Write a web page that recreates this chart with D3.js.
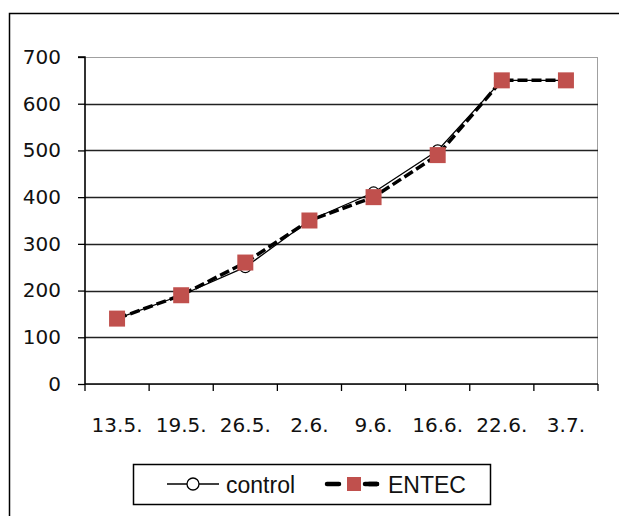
<!DOCTYPE html>
<html>
<head>
<meta charset="utf-8">
<script src="https://cdn.jsdelivr.net/npm/d3@7"></script>
<style>
  body { margin: 0; background: #fff; }
  svg { display: block; }
</style>
</head>
<body>
<script>
// data
var dates   = ["13.5.", "19.5.", "26.5.", "2.6.", "9.6.", "16.6.", "22.6.", "3.7."];
var control = [140, 190, 250, 350, 410, 500, 650, 650];
var entec   = [140, 190, 260, 350, 400, 490, 650, 650];
var yTicks  = [0, 100, 200, 300, 400, 500, 600, 700];

var W = 619, H = 516;
var margin = {top: 57, right: 21, bottom: 132, left: 85};
var width = W - margin.left - margin.right;
var height = H - margin.top - margin.bottom;

var svg = d3.select("body").append("svg")
    .attr("width", W)
    .attr("height", H);

// outer chart border (runs off the right and bottom)
svg.append("rect")
    .attr("x", 9.5).attr("y", 13.5)
    .attr("width", 640).attr("height", 540)
    .attr("fill", "none")
    .attr("stroke", "#000")
    .attr("stroke-width", 1.5);

var g = svg.append("g")
    .attr("transform", "translate(" + margin.left + "," + margin.top + ")");

var x = d3.scaleBand().domain(dates).range([0, width]);
var y = d3.scaleLinear().domain([0, 700]).range([height, 0]);
var cx = function(d, i) { return x(dates[i]) + x.bandwidth() / 2; };

// plot area frame (gray top/right)
g.append("rect")
    .attr("x", 0).attr("y", 0.5)
    .attr("width", width - 0.5).attr("height", height)
    .attr("fill", "none")
    .attr("stroke", "#a0a0a0")
    .attr("stroke-width", 1);

// gridlines
g.selectAll(".grid")
    .data(yTicks.filter(function(t) { return t > 0 && t < 700; }))
    .enter().append("line")
    .attr("x1", 0).attr("x2", width)
    .attr("y1", function(d) { return Math.round(y(d)) + 0.5; })
    .attr("y2", function(d) { return Math.round(y(d)) + 0.5; })
    .attr("stroke", "#222")
    .attr("stroke-width", 1.3);

// y axis
var yAxis = g.append("g")
    .call(d3.axisLeft(y).tickValues(yTicks).tickSize(7).tickPadding(17));
yAxis.select(".domain").attr("stroke", "#000").attr("stroke-width", 1.5)
    .attr("d", "M0," + height + "V0H-7");
yAxis.selectAll(".tick line").attr("stroke", "#000").attr("stroke-width", 1.3);
yAxis.selectAll("text")
    .attr("font-family", "DejaVu Sans, Verdana, sans-serif")
    .attr("font-size", 20)
    .attr("fill", "#111");

// x axis: ticks at band boundaries
var xAxis = g.append("g")
    .attr("transform", "translate(0," + height + ")");
xAxis.append("line")
    .attr("x1", 0).attr("x2", width)
    .attr("stroke", "#000").attr("stroke-width", 1.5);
xAxis.selectAll(".xt")
    .data(d3.range(dates.length + 1))
    .enter().append("line")
    .attr("x1", function(i) { return i * x.step(); })
    .attr("x2", function(i) { return i * x.step(); })
    .attr("y1", 0).attr("y2", 7)
    .attr("stroke", "#000").attr("stroke-width", 1.3);
xAxis.selectAll(".xl")
    .data(dates)
    .enter().append("text")
    .attr("x", function(d) { return x(d) + x.bandwidth() / 2; })
    .attr("y", 48)
    .attr("text-anchor", "middle")
    .attr("font-family", "DejaVu Sans, Verdana, sans-serif")
    .attr("font-size", 20)
    .attr("fill", "#111")
    .text(function(d) { return d; });

var line = d3.line()
    .x(cx)
    .y(function(d) { return y(d); });

// control series
g.append("path")
    .datum(control)
    .attr("d", line)
    .attr("fill", "none")
    .attr("stroke", "#000")
    .attr("stroke-width", 1.3);
g.selectAll(".ctrl")
    .data(control)
    .enter().append("circle")
    .attr("cx", cx)
    .attr("cy", function(d) { return y(d); })
    .attr("r", 5.5)
    .attr("fill", "#fff")
    .attr("stroke", "#000")
    .attr("stroke-width", 1.2);

// ENTEC series
g.append("path")
    .datum(entec)
    .attr("d", line)
    .attr("fill", "none")
    .attr("stroke", "#000")
    .attr("stroke-width", 3.5)
    .attr("stroke-dasharray", "10,4");
g.selectAll(".entec")
    .data(entec)
    .enter().append("rect")
    .attr("x", function(d, i) { return cx(d, i) - 8; })
    .attr("y", function(d) { return y(d) - 8; })
    .attr("width", 16).attr("height", 16)
    .attr("fill", "#c0504d");

// legend
var lg = svg.append("g").attr("transform", "translate(133,464)");
lg.append("rect")
    .attr("x", 0.5).attr("y", 0.5)
    .attr("width", 357).attr("height", 40)
    .attr("fill", "#fff")
    .attr("stroke", "#000")
    .attr("stroke-width", 1.5);

lg.append("line")
    .attr("x1", 34).attr("x2", 86).attr("y1", 20).attr("y2", 20)
    .attr("stroke", "#000").attr("stroke-width", 1.3);
lg.append("circle")
    .attr("cx", 60).attr("cy", 20).attr("r", 6)
    .attr("fill", "#fff").attr("stroke", "#000").attr("stroke-width", 1.3);
lg.append("text")
    .attr("x", 93).attr("y", 29)
    .attr("font-family", "Liberation Sans, Arial, sans-serif")
    .attr("font-size", 23)
    .attr("fill", "#111")
    .text("control");

lg.append("line")
    .attr("x1", 194).attr("x2", 244).attr("y1", 20).attr("y2", 20)
    .attr("stroke", "#000").attr("stroke-width", 4.5)
    .attr("stroke-dasharray", "12,26")
    .attr("stroke-linecap", "round");
lg.append("line")
    .attr("x1", 236).attr("x2", 244).attr("y1", 20).attr("y2", 20)
    .attr("stroke", "#000").attr("stroke-width", 4.5)
    .attr("stroke-linecap", "round");
lg.append("rect")
    .attr("x", 214).attr("y", 13).attr("width", 14).attr("height", 14)
    .attr("fill", "#c0504d");
lg.append("text")
    .attr("x", 255).attr("y", 29)
    .attr("font-family", "Liberation Sans, Arial, sans-serif")
    .attr("font-size", 23)
    .attr("fill", "#111")
    .text("ENTEC");
</script>
</body>
</html>
